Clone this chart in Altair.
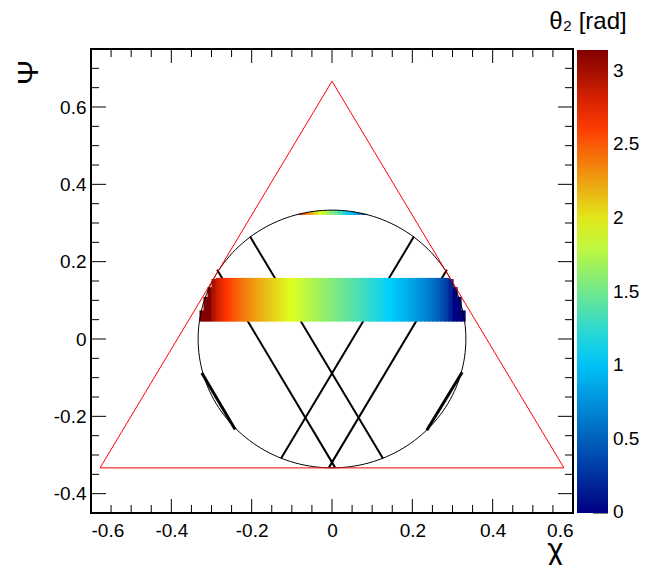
import altair as alt
import pandas as pd

FONT = "Liberation Sans"
W, H = 482, 464

# ---------------- data ----------------
x_domain = [-0.6, 0.6]
y_domain = [-0.45, 0.75]
x_major = [-0.6, -0.4, -0.2, 0.0, 0.2, 0.4, 0.6]
x_minor = [-0.55, -0.5, -0.45, -0.35, -0.3, -0.25, -0.15, -0.1, -0.05,
           0.05, 0.1, 0.15, 0.25, 0.3, 0.35, 0.45, 0.5, 0.55]
y_major = [-0.4, -0.2, 0.0, 0.2, 0.4, 0.6]
y_minor = [-0.35, -0.3, -0.25, -0.15, -0.1, -0.05, 0.05, 0.1, 0.15,
           0.25, 0.3, 0.35, 0.45, 0.5, 0.55, 0.65, 0.7]
cbar_ticks = [0, 0.5, 1, 1.5, 2, 2.5, 3]
cbar_max = 3.14159
cbar_title = "θ₂ [rad]"

# triangle (red)
tri_x = [0.0, 0.5774, -0.5774, 0.0]
tri_y = [0.6667, -0.3333, -0.3333, 0.6667]

# inscribed circle radius
circle_r = 0.3333

# black straight tracks
seg_x1 = [-0.204, -0.286, 0.204, 0.286]
seg_y1 = [0.265, 0.179, 0.265, 0.179]
seg_x2 = [0.127, 0.0075, -0.127, -0.0075]
seg_y2 = [-0.309, -0.332, -0.309, -0.332]

# short thick tracks along the circle (lower left / lower right)
chord_x1 = [-0.324, 0.324]
chord_y1 = [-0.088, -0.086]
chord_x2 = [-0.241, 0.236]
chord_y2 = [-0.234, -0.236]

# wide coloured band (cells)
band_x0 = [-0.33, -0.32, -0.31, -0.30, -0.29, -0.28, -0.27, -0.26, -0.25, -0.24,
           -0.23, -0.22, -0.21, -0.20, -0.19, -0.18, -0.17, -0.16, -0.15, -0.14,
           -0.13, -0.12, -0.11, -0.10, -0.09, -0.08, -0.07, -0.06, -0.05, -0.04,
           -0.03, -0.02, -0.01, 0.00, 0.01, 0.02, 0.03, 0.04, 0.05, 0.06,
           0.07, 0.08, 0.09, 0.10, 0.11, 0.12, 0.13, 0.14, 0.15, 0.16,
           0.17, 0.18, 0.19, 0.20, 0.21, 0.22, 0.23, 0.24, 0.25, 0.26,
           0.27, 0.28, 0.29, 0.30, 0.31, 0.32]
band_theta = [3.14, 3.14, 3.14, 2.959, 2.824, 2.730, 2.653, 2.587, 2.527, 2.470,
              2.419, 2.370, 2.323, 2.278, 2.235, 2.194, 2.153, 2.114, 2.075, 2.038,
              2.001, 1.964, 1.928, 1.893, 1.858, 1.823, 1.789, 1.755, 1.721, 1.688,
              1.654, 1.621, 1.587, 1.554, 1.521, 1.487, 1.454, 1.420, 1.387, 1.352,
              1.318, 1.283, 1.248, 1.213, 1.177, 1.141, 1.103, 1.066, 1.028, 0.988,
              0.947, 0.906, 0.863, 0.819, 0.771, 0.722, 0.671, 0.614, 0.554, 0.488,
              0.411, 0.317, 0.183, 0.0, 0.0, 0.0]
band_top = [0.074, 0.109, 0.134, 0.155] + [0.158] * 58 + [0.155, 0.134, 0.109, 0.074]
band_bottom = 0.045

# thin coloured arc at top of circle
arc_x0 = [-0.085, -0.075, -0.065, -0.055, -0.045, -0.035, -0.025, -0.015, -0.005,
          0.005, 0.015, 0.025, 0.035, 0.045, 0.055, 0.065, 0.075]
arc_theta = [2.80, 2.54, 2.35, 2.20, 2.06, 1.93, 1.81, 1.69, 1.571,
             1.45, 1.33, 1.21, 1.08, 0.94, 0.79, 0.60, 0.35]
arc_top = [0.3236, 0.3259, 0.3279, 0.3296, 0.3309, 0.3320, 0.3327, 0.3332, 0.3333,
           0.3332, 0.3327, 0.3320, 0.3309, 0.3296, 0.3279, 0.3259, 0.3236]
arc_bottom = 0.321

# palette stops
pal_domain = [-0.004, 0.0, 1.068, 1.916, 2.639, 3.14159]
pal_range = ["#000082", "#000082", "#00cfff", "#deff1f", "#ff3300", "#820000"]

# ---------------- tables ----------------
cells = pd.DataFrame({
    "x0": band_x0 + arc_x0,
    "theta": band_theta + arc_theta,
    "y1": band_top + arc_top,
    "y0": [band_bottom] * len(band_x0) + [arc_bottom] * len(arc_x0),
})
cells["x1"] = cells["x0"] + 0.0128

tri = pd.DataFrame({"x": tri_x, "y": tri_y, "i": list(range(len(tri_x)))})
segs = pd.DataFrame({"x1": seg_x1, "y1": seg_y1, "x2": seg_x2, "y2": seg_y2})
chords = pd.DataFrame({"x1": chord_x1, "y1": chord_y1, "x2": chord_x2, "y2": chord_y2})

# ---------------- scales / axes ----------------
lab_expr = "datum.value < 0 ? '-' + format(-datum.value, '~g') : format(datum.value, '~g')"
x_scale = alt.Scale(domain=x_domain, nice=False, zero=False)
y_scale = alt.Scale(domain=y_domain, nice=False, zero=False)
x_axis = alt.Axis(values=x_major, labelExpr=lab_expr, ticks=False, tickSize=0, domain=False,
                  grid=False, labelFont=FONT, labelFontSize=19, labelColor="black",
                  labelPadding=8, title="χ", titleFont=FONT, titleFontSize=31,
                  titleFontWeight="normal", titleColor="black", titleX=464, titleY=46,
                  titleAlign="center", titleBaseline="alphabetic")
y_axis = alt.Axis(values=y_major, labelExpr=lab_expr, ticks=False, tickSize=0, domain=False,
                  grid=False, labelFont=FONT, labelFontSize=19, labelColor="black",
                  labelPadding=5, title="Ψ", titleFont=FONT, titleFontSize=30,
                  titleFontWeight="normal", titleColor="black", titleX=-63, titleY=23,
                  titleAlign="center", titleBaseline="middle", titleAngle=270)


def X(f):
    return alt.X(f, type="quantitative", scale=x_scale, axis=x_axis)


def Y(f):
    return alt.Y(f, type="quantitative", scale=y_scale, axis=y_axis)


pal_scale = alt.Scale(domain=pal_domain, range=pal_range, interpolate="rgb")
color = alt.Color("theta:Q", scale=pal_scale,
                  legend=alt.Legend(type="gradient", orient="none", legendX=486, legendY=1,
                                    direction="vertical",
                                    gradientLength=463, gradientThickness=31, title=None,
                                    values=cbar_ticks, format="~g", labelFont=FONT,
                                    labelFontSize=19, labelColor="black", labelOffset=5,
                                    labelOverlap=False,
                                    gradientStrokeWidth=0, padding=0, offset=0))

# ---------------- layers ----------------
seg_layer = alt.Chart(segs).mark_rule(color="black", strokeWidth=2).encode(
    x=X("x1"), y=Y("y1"), x2="x2", y2="y2")

chord_layer = alt.Chart(chords).mark_rule(color="black", strokeWidth=3).encode(
    x=X("x1"), y=Y("y1"), x2="x2", y2="y2")

band_layer = alt.Chart(cells).mark_rect(strokeWidth=0).encode(
    x=X("x0"), x2="x1", y=Y("y0"), y2="y1", color=color)

circle_layer = alt.Chart(alt.sequence(0, 362, 2, as_="deg")).transform_calculate(
    cx=f"{circle_r}*cos(datum.deg*PI/180)",
    cy=f"{circle_r}*sin(datum.deg*PI/180)",
).mark_line(color="black", strokeWidth=1).encode(
    x=X("cx"), y=Y("cy"), order="deg:Q")

tri_layer = alt.Chart(tri).mark_line(color="#ff0000", strokeWidth=1).encode(
    x=X("x"), y=Y("y"), order="i:Q")


def xticks(vals, length):
    d = pd.DataFrame({"v": vals})
    b = alt.Chart(d).mark_rule(color="black", strokeWidth=1).encode(
        x=X("v"), y=alt.value(H), y2=alt.value(H - length))
    t = alt.Chart(d).mark_rule(color="black", strokeWidth=1).encode(
        x=X("v"), y=alt.value(0), y2=alt.value(length))
    return [b, t]


def yticks(vals, length):
    d = pd.DataFrame({"v": vals})
    l = alt.Chart(d).mark_rule(color="black", strokeWidth=1).encode(
        y=Y("v"), x=alt.value(0), x2=alt.value(length))
    r = alt.Chart(d).mark_rule(color="black", strokeWidth=1).encode(
        y=Y("v"), x=alt.value(W - length), x2=alt.value(W))
    return [l, r]


tick_layers = xticks(x_major, 14) + xticks(x_minor, 8) + yticks(y_major, 15) + yticks(y_minor, 8)

title_layer = alt.Chart(pd.DataFrame({"t": [cbar_title]})).mark_text(
    font=FONT, fontSize=24, color="black", align="center", baseline="middle").encode(
    text="t:N", x=alt.value(497), y=alt.value(-27))

main = alt.layer(seg_layer, chord_layer, band_layer, circle_layer, tri_layer,
                 *tick_layers, title_layer)

cb_tick_layer = alt.Chart(pd.DataFrame({"v": cbar_ticks})).mark_rule(
    color="black", strokeWidth=1).encode(
    y=alt.Y("v:Q", scale=alt.Scale(domain=[0, cbar_max], range=[H, 1], nice=False, zero=False),
            axis=None),
    x=alt.value(502), x2=alt.value(517))

chart = alt.layer(main, cb_tick_layer).resolve_scale(y="independent").properties(
    width=W, height=H,
    autosize=alt.AutoSizeParams(type="none"),
    padding={"left": 83, "top": 41, "right": 70, "bottom": 52},
    background="white",
).configure_view(stroke="black", strokeWidth=2)

chart.save("out.html", embed_options={"renderer": "svg", "actions": False})
